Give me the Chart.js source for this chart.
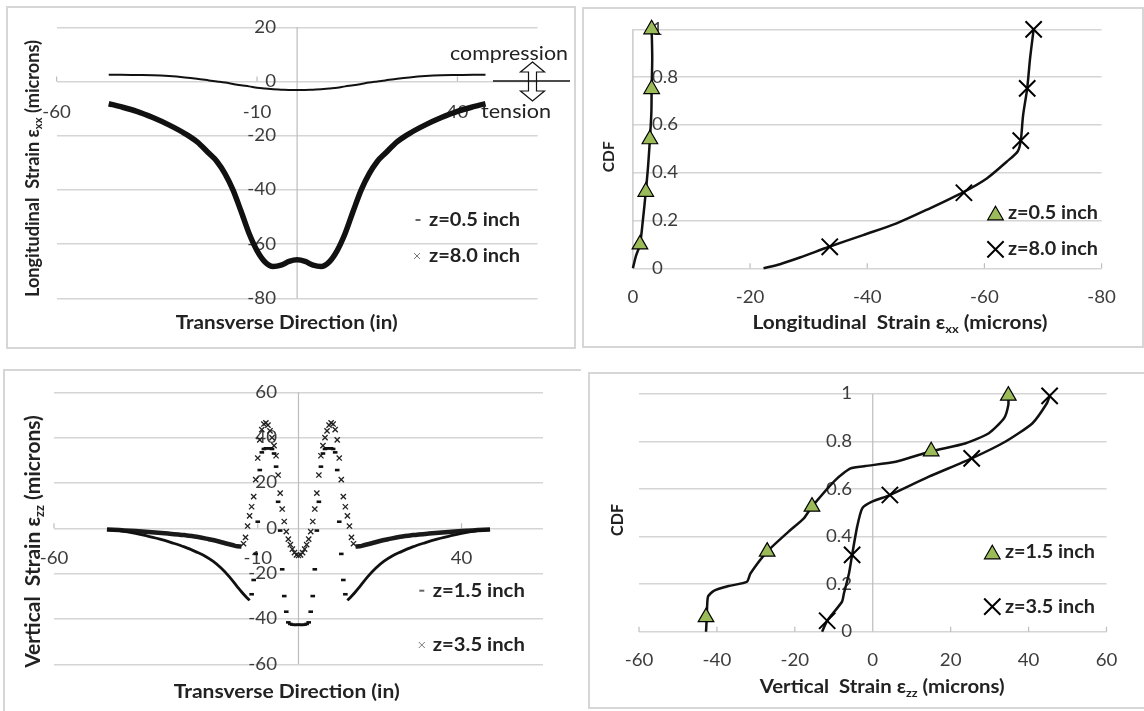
<!DOCTYPE html>
<html>
<head>
<meta charset="utf-8">
<script src="https://cdn.jsdelivr.net/npm/chart.js@4.4.1/dist/chart.umd.min.js"></script>
<style>
  body { margin: 0; background: #fff; }
  #page { position: relative; width: 1144px; height: 711px; overflow: hidden; }
  .frame { position: absolute; box-sizing: border-box; border: 2px solid #d6d6d6; }
  canvas { position: absolute; }
</style>
</head>
<body>
<div id="page">
  <div class="frame" style="left:6px;top:6px;width:570px;height:343px"></div>
  <div class="frame" style="left:582px;top:7px;width:562px;height:341px"></div>
  <div class="frame" style="left:3px;top:369px;width:578px;height:360px;border-right:none;border-bottom:none"></div>
  <div class="frame" style="left:588px;top:372px;width:570px;height:337px;border-right:none"></div>
  <canvas id="tl" width="580" height="350" style="left:0;top:0"></canvas>
  <canvas id="tr" width="564" height="350" style="left:580px;top:0"></canvas>
  <canvas id="bl" width="580" height="361" style="left:0;top:350px"></canvas>
  <canvas id="br" width="564" height="361" style="left:580px;top:350px"></canvas>
</div>
<script>
// ---------- data ----------

// top left: longitudinal strain across the transverse direction
const tlX = [-47, -44, -40, -36, -32, -28, -25, -22, -20, -18, -16, -14, -12, -10, -8, -6, -4, -2, 0,
             2, 4, 6, 8, 10, 12, 14, 16, 18, 20, 22, 25, 28, 32, 36, 40, 44, 47];
const tlZ05 = [2.5, 2.5, 2.4, 2.3, 2.0, 1.5, 1.0, 0.4, 0.0, -0.4, -0.9, -1.4, -1.8, -2.3, -2.6, -2.9, -3.0, -3.1, -3.1,
               -3.1, -3.0, -2.9, -2.6, -2.3, -1.8, -1.4, -0.9, -0.4, 0.0, 0.4, 1.0, 1.5, 2.0, 2.3, 2.4, 2.5, 2.5];
const tlZ80 = [-8.2, -9.3, -11.0, -13.3, -16.0, -19.2, -22.2, -26.5, -29.5, -34.0, -40.0, -47.8, -56.0, -62.4, -66.6, -68.3, -67.8, -66.4, -65.8,
               -66.4, -67.8, -68.3, -66.6, -62.4, -56.0, -47.8, -40.0, -34.0, -29.5, -26.5, -22.2, -19.2, -16.0, -13.3, -11.0, -9.3, -8.2];
const tlXTicks = [-60, -10, 40];
const tlYTicks = [20, 0, -20, -40, -60, -80];

// top right: CDF of longitudinal strain
const trPtsZ05X = [-1.2, -2.2, -2.9, -3.2, -3.2];
const trPtsZ05Y = [0.1, 0.32, 0.54, 0.75, 1.0];
const trPtsZ80X = [-33.6, -56.5, -66.2, -67.3, -68.4];
const trPtsZ80Y = [0.09, 0.316, 0.534, 0.753, 1.0];
const trLineZ05X = [0, -0.5, -1.2, -1.7, -2.2, -2.6, -2.9, -3.15, -3.2, -3.3, -3.2];
const trLineZ05Y = [0, 0.05, 0.1, 0.2, 0.32, 0.43, 0.54, 0.65, 0.75, 0.88, 1.0];
const trLineZ80X = [-22.3, -25.1, -28.5, -33.5, -39.3, -45.0, -50.7, -56.5, -60.4, -63.8, -65.7, -66.2, -66.6, -67.3, -67.8, -68.4];
const trLineZ80Y = [0, 0.017, 0.045, 0.09, 0.139, 0.188, 0.251, 0.32, 0.376, 0.446, 0.49, 0.534, 0.64, 0.753, 0.88, 1.0];
const trXTicks = [0, -20, -40, -60, -80];
const trYTicks = [0, 0.2, 0.4, 0.6, 0.8, 1];

// bottom left: vertical strain across the transverse direction
const blX15 = [-47, -44, -40, -37, -34, -31, -28, -25, -23, -21, -19, -17, -15, -14, -13, -12,
               -11.5, -11, -10.5, -10, -9.5, -9, -8.5, -8, -7.5, -7, -6.5, -6, -5.5, -5, -4.5, -4, -3.5, -3, -2.5, -2, -1.5, -1, -0.5, 0,
               0.5, 1, 1.5, 2, 2.5, 3, 3.5, 4, 4.5, 5, 5.5, 6, 6.5, 7, 7.5, 8, 8.5, 9, 9.5, 10, 10.5, 11, 11.5,
               12, 13, 14, 15, 17, 19, 21, 23, 25, 28, 31, 34, 37, 40, 44, 47];
const blZ15 = [-0.5, -1.0, -2.2, -3.5, -4.8, -6.4, -8.2, -10.5, -12.2, -14.5, -17.5, -21.3, -25.8, -28.0, -30.0, -31.8,
               -29.1, -22.8, -11.3, 2.9, 25.7, 33.5, 35.0, 35.3, 35.3, 35.3, 35.0, 33.0, 27.2, 11.7, -1.0, -18.1, -29.9, -36.8, -41.5, -42.2, -42.5, -42.6, -42.6, -42.5,
               -42.6, -42.6, -42.5, -42.2, -41.5, -36.8, -29.9, -18.1, -1.0, 11.7, 27.2, 33.0, 35.0, 35.3, 35.3, 35.3, 35.0, 33.5, 25.7, 2.9, -11.3, -22.8, -29.1,
               -31.8, -30.0, -28.0, -25.8, -21.3, -17.5, -14.5, -12.2, -10.5, -8.2, -6.4, -4.8, -3.5, -2.2, -1.0, -0.5];
const blX35 = [-47, -44, -40, -36, -32, -28, -25, -22, -20, -18, -16, -15, -14,
               -13.5, -13, -12.5, -12, -11.5, -11, -10.5, -10, -9.5, -9, -8.5, -8, -7.5, -7, -6.5, -6, -5.5, -5, -4.5, -4, -3.5, -3, -2.5, -2, -1.5, -1, -0.5, 0,
               0.5, 1, 1.5, 2, 2.5, 3, 3.5, 4, 4.5, 5, 5.5, 6, 6.5, 7, 7.5, 8, 8.5, 9, 9.5, 10, 10.5, 11, 11.5, 12, 12.5, 13, 13.5,
               14, 15, 16, 18, 20, 22, 25, 28, 32, 36, 40, 44, 47];
const blZ35 = [-0.5, -0.8, -1.2, -1.7, -2.3, -3.0, -3.7, -4.8, -5.6, -6.6, -7.5, -7.9, -8.0,
               -6.8, -4.0, 1.0, 5.5, 9.5, 14.0, 21.5, 31.0, 39.0, 43.5, 46.0, 46.5, 45.5, 43.0, 40.0, 36.5, 32.0, 23.5, 15.5, 8.5, 3.0, -1.5, -4.8, -7.2, -9.2, -10.7, -11.7, -12.0,
               -11.7, -10.7, -9.2, -7.2, -4.8, -1.5, 3.0, 8.5, 15.5, 23.5, 32.0, 36.5, 40.0, 43.0, 45.5, 46.5, 46.0, 43.5, 39.0, 31.0, 21.5, 14.0, 9.5, 5.5, 1.0, -4.0, -6.8,
               -8.0, -7.9, -7.5, -6.6, -5.6, -4.8, -3.7, -3.0, -2.3, -1.7, -1.2, -0.8, -0.5];
const blXTicks = [-60, -10, 40];
const blYTicks = [60, 40, 20, 0, -20, -40, -60];

// bottom right: CDF of vertical strain
const brPtsZ15X = [-42.8, -27.1, -15.6, 15.0, 34.8];
const brPtsZ15Y = [0.061, 0.337, 0.526, 0.759, 0.993];
const brPtsZ35X = [-11.7, -5.3, 4.4, 25.4, 45.4];
const brPtsZ35Y = [0.046, 0.323, 0.575, 0.729, 0.992];
const brLineZ15X = [-42.8, -42.6, -42.3, -40.8, -37.0, -32.3, -31.4, -27.1, -21.6, -17.7, -15.6, -9.6, -5.7, -1.9, 5.9, 15.0, 23.9, 29.8, 33.7, 34.8, 34.8];
const brLineZ15Y = [0, 0.06, 0.147, 0.172, 0.192, 0.21, 0.245, 0.337, 0.421, 0.477, 0.526, 0.638, 0.687, 0.697, 0.715, 0.759, 0.793, 0.835, 0.898, 0.954, 0.993];
const brLineZ35X = [-13.0, -11.7, -7.9, -7.4, -6.1, -5.3, -4.0, -2.7, -0.2, 4.4, 14.4, 25.4, 34.1, 41.0, 44.7, 45.4];
const brLineZ35Y = [0, 0.046, 0.126, 0.161, 0.245, 0.323, 0.442, 0.519, 0.547, 0.575, 0.652, 0.729, 0.8, 0.877, 0.961, 0.992];
const brXTicks = [-60, -40, -20, 0, 20, 40, 60];
const brYTicks = [0, 0.2, 0.4, 0.6, 0.8, 1];

// ---------- drawing helpers ----------
const FONT = 'Lato, "Open Sans", sans-serif';
const TICK = '#3d3d3d', INK = '#222', GRID = '#d5d5d5', AXIS = '#bdbdbd', GREEN = '#9bbb59';

function pts(xs, ys) { return xs.map((x, i) => ({ x: x, y: ys[i] })); }

// text made of parts; a part can be a subscript
function drawText(ctx, parts, o) {
  if (typeof parts === 'string') parts = [{ t: parts }];
  const weight = o.weight || 'normal';
  const measure = s => parts.reduce((w, p) => {
    ctx.font = weight + ' ' + (p.sub ? s * 0.62 : s) + 'px ' + FONT;
    return w + ctx.measureText(p.t).width;
  }, 0);
  let size = o.size, sx = o.sx || 1;
  if (o.rot) size = 10 * o.width / measure(10);
  else if (o.width) sx = o.width / measure(size);
  const w = measure(size);
  ctx.save();
  ctx.translate(o.x, o.y);
  if (o.rot) ctx.rotate(-Math.PI / 2);
  ctx.scale(sx, 1);
  ctx.fillStyle = o.color || INK;
  ctx.textBaseline = 'middle';
  ctx.textAlign = 'left';
  let x = o.align === 'left' ? 0 : o.align === 'right' ? -w : -w / 2;
  for (const p of parts) {
    const s = p.sub ? size * 0.62 : size;
    ctx.font = weight + ' ' + s + 'px ' + FONT;
    ctx.fillText(p.t, x, p.sub ? size * 0.3 : 0);
    x += ctx.measureText(p.t).width;
  }
  ctx.restore();
}

function drawMarker(ctx, kind, x, y) {
  ctx.save();
  if (kind === 'dash') {
    ctx.fillStyle = '#666';
    ctx.fillRect(x - 2.5, y - 1, 5, 2);
  } else if (kind === 'x') {
    ctx.strokeStyle = '#777'; ctx.lineWidth = 1;
    ctx.beginPath();
    ctx.moveTo(x - 3, y - 3); ctx.lineTo(x + 3, y + 3);
    ctx.moveTo(x + 3, y - 3); ctx.lineTo(x - 3, y + 3);
    ctx.stroke();
  } else if (kind === 'tri') {
    ctx.fillStyle = GREEN; ctx.strokeStyle = '#000'; ctx.lineWidth = 1.2;
    Chart.helpers.drawPoint(ctx, { pointStyle: 'triangle', radius: 9, borderWidth: 1.2, rotation: 0 }, x, y + 2);
  } else if (kind === 'bigx') {
    ctx.strokeStyle = '#000'; ctx.lineWidth = 2;
    Chart.helpers.drawPoint(ctx, { pointStyle: 'crossRot', radius: 11.5, borderWidth: 2, rotation: 0 }, x, y);
  }
  ctx.restore();
}

// axes crossing at zero, labels, titles and legend, Excel style
function decor(spec) {
  return {
    id: 'decor',
    beforeDatasetsDraw(chart) {
      const { ctx, chartArea: a, scales: { x, y } } = chart;
      const x0 = x.getPixelForValue(0);
      const y0 = y.getPixelForValue(0);
      ctx.save();
      ctx.strokeStyle = AXIS; ctx.lineWidth = 1.2;
      ctx.beginPath();
      ctx.moveTo(x0, a.top); ctx.lineTo(x0, a.bottom);
      spec.xTicks.forEach(v => {
        const px = x.getPixelForValue(v);
        ctx.moveTo(px, y0 - 5); ctx.lineTo(px, y0);
      });
      ctx.stroke();
      ctx.restore();
      spec.xTicks.forEach(v => drawText(ctx, String(v), {
        x: x.getPixelForValue(v), y: y0 + spec.xLabelDy, size: 17, sx: 1.1, color: TICK }));
      spec.yTicks.forEach(v => drawText(ctx, String(v), {
        x: spec.yLabelX, y: y.getPixelForValue(v), size: 17, sx: 1.1, color: TICK, align: spec.yAlign }));
    },
    afterDraw(chart) {
      const ctx = chart.ctx;
      const t = spec.xTitle, u = spec.yTitle;
      drawText(ctx, t.parts, { x: t.x, y: t.y, size: 18.5, width: t.w, weight: 'bold' });
      drawText(ctx, u.parts, { x: u.x, y: u.y, width: u.w, weight: 'bold', rot: true });
      spec.legend.forEach(r => {
        drawMarker(ctx, r.marker, r.mx, r.y);
        drawText(ctx, r.text, { x: r.tx, y: r.y, size: 18, width: r.w, weight: 'bold', align: 'left' });
      });
      if (spec.extra) spec.extra(ctx);
    }
  };
}

function axesOptions(pad, xMin, xMax, yMin, yMax, yStep, reverse) {
  return {
    responsive: false, animation: false, devicePixelRatio: 1, events: [],
    layout: { padding: pad, autoPadding: false },
    plugins: { legend: { display: false }, tooltip: { enabled: false } },
    scales: {
      x: { type: 'linear', display: false, min: xMin, max: xMax, reverse: !!reverse },
      y: { type: 'linear', min: yMin, max: yMax,
           ticks: { display: false, stepSize: yStep },
           grid: { color: GRID, lineWidth: 1.5, drawTicks: false },
           border: { display: false } }
    }
  };
}

function lineSet(data, width, extra) {
  return Object.assign({ data: data, showLine: true, pointRadius: 0, borderColor: '#111',
                         borderWidth: width, order: 2, clip: false }, extra || {});
}
function markSet(data, style, radius, extra) {
  return Object.assign({ data: data, showLine: false, pointStyle: style, pointRadius: radius,
                         pointBorderColor: '#111', order: 1, clip: false }, extra || {});
}

const strainXX = [{ t: 'Longitudinal  Strain ε' }, { t: 'xx', sub: true }, { t: ' (microns)' }];
const strainZZ = [{ t: 'Vertical  Strain ε' }, { t: 'zz', sub: true }, { t: ' (microns)' }];

// ---------- top left ----------
new Chart(document.getElementById('tl'), {
  type: 'scatter',
  data: { datasets: [
    lineSet(pts(tlX, tlZ05), 2, { cubicInterpolationMode: 'monotone' }),
    lineSet(pts(tlX, tlZ80), 5.5, { cubicInterpolationMode: 'monotone' })
  ] },
  options: axesOptions({ left: 56.6, right: 42.4, top: 27.3, bottom: 51.7 }, -60, 60, -80, 20, 20),
  plugins: [decor({
    xTicks: tlXTicks, yTicks: tlYTicks, xLabelDy: 30.7, yLabelX: 276, yAlign: 'right',
    xTitle: { parts: 'Transverse Direction (in)', x: 286.7, y: 323.3, w: 222 },
    yTitle: { parts: strainXX, x: 33.3, y: 168.5, w: 257 },
    legend: [
      { marker: 'dash', mx: 418, tx: 429, y: 220, w: 91, text: 'z=0.5 inch' },
      { marker: 'x', mx: 417, tx: 429, y: 256, w: 91, text: 'z=8.0 inch' }
    ],
    extra(ctx) {
      drawText(ctx, 'compression', { x: 450, y: 54.3, size: 18.5, width: 118, align: 'left', color: INK });
      drawText(ctx, 'tension', { x: 481, y: 111.7, size: 18.5, width: 70, align: 'left', color: INK });
      const cx = 532.5, t = 62, b = 101, hw = 12, sw = 4, hh = 10;
      ctx.save();
      ctx.strokeStyle = '#111'; ctx.lineWidth = 1.2;
      ctx.beginPath();
      ctx.moveTo(cx, t); ctx.lineTo(cx + hw, t + hh); ctx.lineTo(cx + sw, t + hh);
      ctx.lineTo(cx + sw, b - hh); ctx.lineTo(cx + hw, b - hh); ctx.lineTo(cx, b);
      ctx.lineTo(cx - hw, b - hh); ctx.lineTo(cx - sw, b - hh); ctx.lineTo(cx - sw, t + hh);
      ctx.lineTo(cx - hw, t + hh); ctx.closePath();
      ctx.stroke();
      ctx.lineWidth = 1.5;
      ctx.beginPath(); ctx.moveTo(493, 81); ctx.lineTo(570, 81); ctx.stroke();
      ctx.restore();
    }
  })]
});

// ---------- top right ----------
new Chart(document.getElementById('tr'), {
  type: 'scatter',
  data: { datasets: [
    markSet(pts(trPtsZ05X, trPtsZ05Y), 'triangle', 9, { pointBackgroundColor: GREEN, pointBorderColor: '#000', pointBorderWidth: 1.2 }),
    markSet(pts(trPtsZ80X, trPtsZ80Y), 'crossRot', 11.5, { pointBorderColor: '#000', pointBorderWidth: 2 }),
    lineSet(pts(trLineZ05X, trLineZ05Y), 2.5, { tension: 0.3 }),
    lineSet(pts(trLineZ80X, trLineZ80Y), 2.5, { tension: 0.3 })
  ] },
  options: axesOptions({ left: 52.9, right: 42.4, top: 29.3, bottom: 81.7 }, -80, 0, 0, 1, 0.2, true),
  plugins: [decor({
    xTicks: trXTicks, yTicks: trYTicks, xLabelDy: 29.4, yLabelX: 72, yAlign: 'left',
    xTitle: { parts: strainXX, x: 320, y: 323.3, w: 295 },
    yTitle: { parts: 'CDF', x: 28.8, y: 156.7, w: 31 },
    legend: [
      { marker: 'tri', mx: 415.5, tx: 428, y: 213.3, w: 90, text: 'z=0.5 inch' },
      { marker: 'bigx', mx: 415.5, tx: 428, y: 249.3, w: 90, text: 'z=8.0 inch' }
    ]
  })]
});

// ---------- bottom left ----------
const bl15 = pts(blX15, blZ15), bl35 = pts(blX35, blZ35);
new Chart(document.getElementById('bl'), {
  type: 'scatter',
  data: { datasets: [
    markSet(bl15.filter(p => Math.abs(p.x) < 12), 'line', 2.3, { pointBorderWidth: 2.6 }),
    markSet(bl35.filter(p => Math.abs(p.x) < 14), 'crossRot', 3.7, { pointBorderColor: '#222', pointBorderWidth: 1.3 }),
    lineSet(bl15.filter(p => p.x <= -12), 2.8, { cubicInterpolationMode: 'monotone' }),
    lineSet(bl15.filter(p => p.x >= 12), 2.8, { cubicInterpolationMode: 'monotone' }),
    lineSet(bl35.filter(p => p.x <= -14), 4.5, { cubicInterpolationMode: 'monotone', borderColor: '#1a1a1a' }),
    lineSet(bl35.filter(p => p.x >= 14), 4.5, { cubicInterpolationMode: 'monotone', borderColor: '#1a1a1a' })
  ] },
  options: axesOptions({ left: 54, right: 37, top: 42.3, bottom: 46.7 }, -60, 60, -60, 60, 20),
  plugins: [decor({
    xTicks: blXTicks, yTicks: blYTicks, xLabelDy: 30, yLabelX: 277, yAlign: 'right',
    xTitle: { parts: 'Transverse Direction (in)', x: 286.7, y: 341.7, w: 226 },
    yTitle: { parts: strainZZ, x: 33.3, y: 191.5, w: 253 },
    legend: [
      { marker: 'dash', mx: 421.8, tx: 432.8, y: 240.7, w: 92, text: 'z=1.5 inch' },
      { marker: 'x', mx: 421.8, tx: 432.8, y: 295, w: 92, text: 'z=3.5 inch' }
    ]
  })]
});

// ---------- bottom right ----------
new Chart(document.getElementById('br'), {
  type: 'scatter',
  data: { datasets: [
    markSet(pts(brPtsZ15X, brPtsZ15Y), 'triangle', 9, { pointBackgroundColor: GREEN, pointBorderColor: '#000', pointBorderWidth: 1.2 }),
    markSet(pts(brPtsZ35X, brPtsZ35Y), 'crossRot', 11.5, { pointBorderColor: '#000', pointBorderWidth: 2 }),
    lineSet(pts(brLineZ15X, brLineZ15Y), 2.5, { tension: 0.2 }),
    lineSet(pts(brLineZ35X, brLineZ35Y), 2.5, { tension: 0.2 })
  ] },
  options: axesOptions({ left: 59, right: 37.5, top: 44, bottom: 79.3 }, -60, 60, 0, 1, 0.2),
  plugins: [decor({
    xTicks: brXTicks, yTicks: brYTicks, xLabelDy: 29, yLabelX: 272, yAlign: 'right',
    xTitle: { parts: strainZZ, x: 302.2, y: 337.3, w: 245 },
    yTitle: { parts: 'CDF', x: 37.8, y: 170, w: 32 },
    legend: [
      { marker: 'tri', mx: 412.3, tx: 425, y: 202.3, w: 90, text: 'z=1.5 inch' },
      { marker: 'bigx', mx: 412.3, tx: 425, y: 256.7, w: 90, text: 'z=3.5 inch' }
    ]
  })]
});
</script>
</body>
</html>
